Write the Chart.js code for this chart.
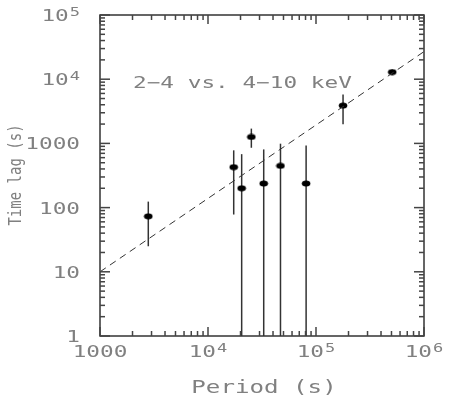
<!DOCTYPE html>
<html>
<head>
<meta charset="utf-8">
<script src="https://cdn.jsdelivr.net/npm/chart.js@4"></script>
<style>
  html, body { margin: 0; padding: 0; background: #fff; }
</style>
</head>
<body>
<canvas id="chart" width="449" height="399"></canvas>
<script>
// values
const periods = [2800, 17300, 20500, 25200, 32800, 46900, 81000, 178000, 508000];
const lags    = [73, 427, 200, 1260, 237, 447, 237, 3880, 12900];
const lagHigh = [124, 780, 680, 1700, 806, 990, 930, 5760, 14100];
const lagLow  = [25, 78, 1, 855, 1, 1, 1, 1990, 11700];

// dashed line
const fitPeriods = [1000, 1000000];
const fitLags = [10, 26900];

// axes
const xTicks = [1000, 1e4, 1e5, 1e6];
const xTickLabels = [['1000', ''], ['10', '4'], ['10', '5'], ['10', '6']];
const yTicks = [1, 10, 100, 1000, 1e4, 1e5];
const yTickLabels = [['1', ''], ['10', ''], ['100', ''], ['1000', ''], ['10', '4'], ['10', '5']];
const annotation = '2\u22124 vs. 4\u221210 keV';
const xTitle = 'Period (s)';
const yTitle = 'Time lag (s)';

const FONT = '"DejaVu Sans Mono", monospace';
const SX = 1.42;          // glyphs in the original are very wide
const TEXT_COLOR = '#808080';
const AXIS_COLOR = '#333';

// draw text stretched horizontally, returns drawn width
function wideText(ctx, str, x, y, size, align) {
  ctx.save();
  ctx.font = size + 'px ' + FONT;
  const w = ctx.measureText(str).width * SX;
  let x0 = x;
  if (align === 'center') x0 = x - w / 2;
  else if (align === 'right') x0 = x - w;
  ctx.translate(x0, y);
  ctx.scale(SX, 1);
  ctx.fillStyle = TEXT_COLOR;
  ctx.textAlign = 'left';
  ctx.textBaseline = 'alphabetic';
  ctx.fillText(str, 0, 0);
  ctx.restore();
  return w;
}

function tickLabel(ctx, parts, x, y, align) {
  ctx.font = '16px ' + FONT;
  const wb = ctx.measureText(parts[0]).width * SX;
  ctx.font = '12px ' + FONT;
  const we = parts[1] ? ctx.measureText(parts[1]).width * SX + 1 : 0;
  const total = wb + we;
  const x0 = align === 'center' ? x - total / 2 : x - total;
  wideText(ctx, parts[0], x0, y, 16, 'left');
  if (parts[1]) wideText(ctx, parts[1], x0 + wb + 1, y - 5, 12, 'left');
}

// elliptical marker
const marker = document.createElement('canvas');
marker.width = 10;
marker.height = 7;
(function () {
  const m = marker.getContext('2d');
  m.fillStyle = '#000';
  m.beginPath();
  m.ellipse(5, 3.5, 4.3, 3, 0, 0, Math.PI * 2);
  m.fill();
})();

// error bars under the markers
const errorBars = {
  id: 'errorBars',
  beforeDatasetsDraw(chart) {
    const ctx = chart.ctx;
    const x = chart.scales.x, y = chart.scales.y;
    const area = chart.chartArea;
    ctx.save();
    ctx.beginPath();
    ctx.rect(area.left, area.top, area.right - area.left, area.bottom - area.top);
    ctx.clip();
    ctx.setLineDash([]);
    ctx.strokeStyle = '#333';
    ctx.lineWidth = 1.5;
    for (let i = 0; i < periods.length; i++) {
      const px = x.getPixelForValue(periods[i]);
      ctx.beginPath();
      ctx.moveTo(px, y.getPixelForValue(lagLow[i]));
      ctx.lineTo(px, y.getPixelForValue(lagHigh[i]));
      ctx.stroke();
    }
    ctx.restore();
  }
};

// box, inward ticks on all sides, labels
const frame = {
  id: 'frame',
  afterDraw(chart) {
    const ctx = chart.ctx;
    const xs = chart.scales.x, ys = chart.scales.y;
    const a = chart.chartArea;
    ctx.save();
    ctx.setLineDash([]);
    ctx.strokeStyle = AXIS_COLOR;
    ctx.lineWidth = 1.5;
    ctx.strokeRect(a.left, a.top, a.right - a.left, a.bottom - a.top);

    ctx.lineWidth = 1.5;
    ctx.strokeStyle = '#444';
    // x ticks
    for (let d = 3; d <= 6; d++) {
      for (let k = 1; k <= 9; k++) {
        const v = k * Math.pow(10, d);
        if (v > 1e6) break;
        const px = xs.getPixelForValue(v);
        const len = k === 1 ? 9 : 5;
        ctx.beginPath();
        ctx.moveTo(px, a.bottom); ctx.lineTo(px, a.bottom - len);
        ctx.stroke();
        ctx.beginPath();
        ctx.moveTo(px, a.top); ctx.lineTo(px, a.top + len);
        ctx.stroke();
      }
    }
    // y ticks
    for (let d = 0; d <= 5; d++) {
      for (let k = 1; k <= 9; k++) {
        const v = k * Math.pow(10, d);
        if (v > 1e5) break;
        const py = ys.getPixelForValue(v);
        const len = k === 1 ? 10 : 5;
        ctx.beginPath();
        ctx.moveTo(a.left, py); ctx.lineTo(a.left + len, py);
        ctx.stroke();
        ctx.beginPath();
        ctx.moveTo(a.right, py); ctx.lineTo(a.right - len, py);
        ctx.stroke();
      }
    }
    ctx.restore();

    // tick labels
    xTicks.forEach((v, i) => tickLabel(ctx, xTickLabels[i], xs.getPixelForValue(v), a.bottom + 21, 'center'));
    yTicks.forEach((v, i) => tickLabel(ctx, yTickLabels[i], a.left - 20, ys.getPixelForValue(v) + 6, 'right'));

    // titles
    wideText(ctx, xTitle, (a.left + a.right) / 2 + 2, a.bottom + 57, 17, 'center');
    ctx.save();
    ctx.translate(21, 175);
    ctx.scale(1.27, 1);
    ctx.rotate(-Math.PI / 2);
    ctx.font = '14px ' + FONT;
    ctx.fillStyle = TEXT_COLOR;
    ctx.textAlign = 'center';
    ctx.textBaseline = 'alphabetic';
    ctx.fillText(yTitle, 0, 0);
    ctx.restore();

    // annotation
    wideText(ctx, annotation, 133, 88, 16, 'left');
  }
};

new Chart(document.getElementById('chart'), {
  type: 'scatter',
  data: {
    datasets: [
      {
        label: 'fit',
        data: fitPeriods.map((p, i) => ({ x: p, y: fitLags[i] })),
        showLine: true,
        borderColor: '#333',
        borderWidth: 1,
        borderDash: [7, 5],
        pointRadius: 0
      },
      {
        label: 'lags',
        data: periods.map((p, i) => ({ x: p, y: lags[i] })),
        pointStyle: marker,
        pointRadius: 4,
        showLine: false
      }
    ]
  },
  options: {
    responsive: false,
    animation: false,
    devicePixelRatio: 1,
    layout: { padding: { left: 100, right: 25, top: 15, bottom: 63 } },
    plugins: { legend: { display: false }, tooltip: { enabled: false } },
    scales: {
      x: { type: 'logarithmic', min: 1000, max: 1e6, display: false },
      y: { type: 'logarithmic', min: 1, max: 1e5, display: false }
    }
  },
  plugins: [errorBars, frame]
});
</script>
</body>
</html>
